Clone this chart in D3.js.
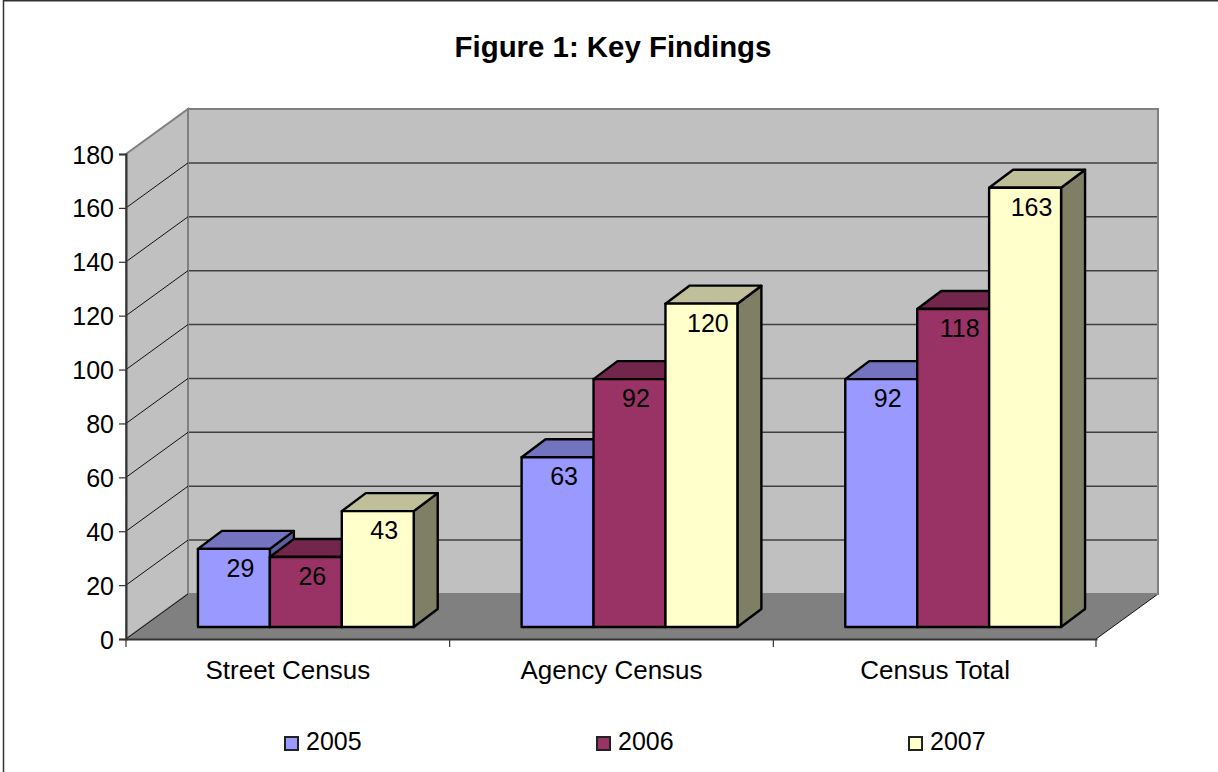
<!DOCTYPE html>
<html>
<head>
<meta charset="utf-8">
<style>
html,body{margin:0;padding:0;background:#fff}
svg{display:block}
text{font-family:"Liberation Sans",Arial,sans-serif;fill:#000}
</style>
<script src="https://cdnjs.cloudflare.com/ajax/libs/d3/7.9.0/d3.min.js"></script>
</head>
<body>
<svg id="chart" width="1218" height="772"></svg>
<script>
const chartTitle = "Figure 1: Key Findings";
const categories = ["Street Census", "Agency Census", "Census Total"];
const seriesNames = ["2005", "2006", "2007"];
const values2005 = [29, 63, 92];
const values2006 = [26, 92, 118];
const values2007 = [43, 120, 163];
const seriesValues = [values2005, values2006, values2007];
const yTicks = d3.range(0, 181, 20);

const frontFill = ["#9999FF", "#993366", "#FFFFCC"];
const topFill = ["#7373BF", "#73264C", "#BFBF99"];
const sideFill = ["#5F5F9F", "#5F1F3F", "#7F7F66"];

const svg = d3.select("#chart");
const left = 126, right = 1096, base = 639, topY = 154;
const wall = {dx: 62, dy: -45};      // depth of the chart box
const barDepth = {dx: 24, dy: -18};  // depth of each column
const inset = {dx: 18, dy: -12};     // column front relative to the front of the floor
const font = '"Liberation Sans",Arial,sans-serif';

const x0 = d3.scaleBand().domain(categories).range([left, right + 1]);
const x1 = d3.scaleBand().domain(seriesNames).range([0, x0.bandwidth()]).paddingInner(0).paddingOuter(0.75);
const y = d3.scaleLinear().domain([0, 180]).range([base, topY]);

const poly = pts => "M" + pts.map(p => p.join(",")).join("L") + "Z";

// Frame runs along the top and left edges only
svg.append("path").attr("d", "M3.5,772V0.75H1218")
  .attr("fill", "none").attr("stroke", "#333").attr("stroke-width", 1.5);

svg.append("text").attr("x", 613).attr("y", 56.5).attr("text-anchor", "middle")
  .attr("font-size", 29.4).attr("font-weight", "bold").text(chartTitle);

// Back wall, side wall and floor
const yTop = y(180);
svg.append("path")
  .attr("d", poly([[left + wall.dx, base + wall.dy], [right + wall.dx, base + wall.dy], [right + wall.dx, yTop + wall.dy], [left + wall.dx, yTop + wall.dy]]))
  .attr("fill", "#C0C0C0").attr("stroke", "#808080").attr("stroke-width", 2);
svg.append("path")
  .attr("d", poly([[left, base], [left + wall.dx, base + wall.dy], [left + wall.dx, yTop + wall.dy], [left, yTop]]))
  .attr("fill", "#C0C0C0").attr("stroke", "#808080").attr("stroke-width", 2);

// Gridlines across both walls
svg.append("g").selectAll("line").data(yTicks.slice(1, -1)).join("line")
  .attr("x1", left + wall.dx + 1).attr("x2", right + wall.dx - 1)
  .attr("y1", d => y(d) + wall.dy).attr("y2", d => y(d) + wall.dy)
  .attr("stroke", "#404040").attr("stroke-width", 1.5);
svg.append("g").selectAll("line").data(yTicks.slice(1, -1)).join("line")
  .attr("x1", left).attr("x2", left + wall.dx)
  .attr("y1", d => y(d)).attr("y2", d => y(d) + wall.dy)
  .attr("stroke", "#111").attr("stroke-width", 1);

svg.append("path")
  .attr("d", poly([[left, base], [right, base], [right + wall.dx, base + wall.dy], [left + wall.dx, base + wall.dy]]))
  .attr("fill", "#808080");
svg.append("path")
  .attr("d", `M${left},${base}L${left + wall.dx},${base + wall.dy}M${right},${base}L${right + wall.dx},${base + wall.dy}`)
  .attr("fill", "none").attr("stroke", "#111").attr("stroke-width", 1);
svg.append("path")
  .attr("d", `M${left + wall.dx},${base + wall.dy}H${right + wall.dx}`)
  .attr("fill", "none").attr("stroke", "#808080").attr("stroke-width", 2);

// Axes
const axisY = d3.axisLeft(y).tickValues(yTicks).tickSize(7).tickPadding(5);
const gy = svg.append("g").attr("transform", `translate(${left},0)`).call(axisY);
gy.selectAll("text").attr("font-size", 25).attr("dy", "0.36em").style("font-family", font);
const axisX = d3.axisBottom(x0).tickSize(0).tickPadding(22);
const gx = svg.append("g").attr("transform", `translate(0,${base})`).call(axisX);
gx.selectAll("text").attr("font-size", 26).style("font-family", font);
// Category separators sit on the band edges
svg.append("g").selectAll("line").data(categories.map(c => x0(c)).concat([right])).join("line")
  .attr("x1", d => d).attr("x2", d => d).attr("y1", base).attr("y2", base + 8)
  .attr("stroke", "#333").attr("stroke-width", 1.2);
svg.selectAll(".domain").attr("stroke", "#333").attr("stroke-width", 2);
svg.selectAll(".tick line").attr("stroke", "#333").attr("stroke-width", 1.2);

// Columns, back to front in series order within each group
categories.forEach((cat, ci) => {
  seriesNames.forEach((name, si) => {
    const v = seriesValues[si][ci];
    const xa = x0(cat) + x1(name) + inset.dx;
    const xb = xa + x1.bandwidth();
    const yb = base + inset.dy;
    const yt = y(v) + inset.dy;
    const g = svg.append("g").attr("stroke", "#000").attr("stroke-width", 2.4).attr("stroke-linejoin", "round");
    g.append("path").attr("fill", sideFill[si])
      .attr("d", poly([[xb, yb], [xb + barDepth.dx, yb + barDepth.dy], [xb + barDepth.dx, yt + barDepth.dy], [xb, yt]]));
    g.append("path").attr("fill", topFill[si])
      .attr("d", poly([[xa, yt], [xb, yt], [xb + barDepth.dx, yt + barDepth.dy], [xa + barDepth.dx, yt + barDepth.dy]]));
    g.append("rect").attr("fill", frontFill[si])
      .attr("x", xa).attr("y", yt).attr("width", xb - xa).attr("height", yb - yt);
  });
});

// Value labels drawn last so no column covers them
categories.forEach((cat, ci) => {
  seriesNames.forEach((name, si) => {
    const v = seriesValues[si][ci];
    svg.append("text")
      .attr("x", x0(cat) + x1(name) + inset.dx + x1.bandwidth() / 2 + 6.5)
      .attr("y", y(v) + inset.dy + 28)
      .attr("text-anchor", "middle").attr("font-size", 25).text(v);
  });
});

// Legend
const legendX = d3.scaleOrdinal().domain(seriesNames).range([285, 597, 909]);
const legend = svg.append("g").selectAll("g").data(seriesNames).join("g")
  .attr("transform", d => `translate(${legendX(d)},737)`);
legend.append("rect").attr("x", 0).attr("y", 0).attr("width", 13).attr("height", 13)
  .attr("fill", (d, i) => frontFill[i]).attr("stroke", "#222").attr("stroke-width", 2);
legend.append("text").attr("x", 21).attr("y", 13).attr("font-size", 25).text(d => d);
</script>
</body>
</html>
